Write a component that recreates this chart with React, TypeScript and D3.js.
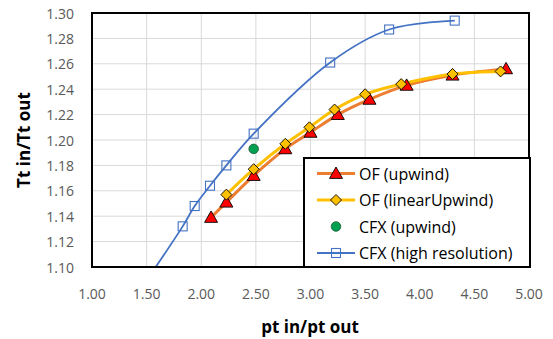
import React from "react";
import * as d3 from "d3";

const ofUpwindX = [2.09, 2.23, 2.48, 2.77, 3.0, 3.25, 3.54, 3.88, 4.3, 4.79];
const ofUpwindY = [1.139, 1.151, 1.172, 1.193, 1.206, 1.22, 1.232, 1.243, 1.251, 1.256];

const ofLinearX = [2.23, 2.48, 2.77, 2.99, 3.22, 3.5, 3.83, 4.3, 4.74];
const ofLinearY = [1.157, 1.177, 1.197, 1.21, 1.224, 1.236, 1.244, 1.252, 1.254];

const cfxUpwindX = [2.48];
const cfxUpwindY = [1.193];

const cfxHighX = [1.52, 1.83, 1.94, 2.08, 2.23, 2.48, 3.18, 3.72, 4.32];
const cfxHighY = [1.092, 1.132, 1.148, 1.164, 1.18, 1.205, 1.261, 1.287, 1.294];

const xTicks = [1.0, 1.5, 2.0, 2.5, 3.0, 3.5, 4.0, 4.5, 5.0];
const yTicks = [1.1, 1.12, 1.14, 1.16, 1.18, 1.2, 1.22, 1.24, 1.26, 1.28, 1.3];

const legendLabels = ["OF (upwind)", "OF (linearUpwind)", "CFX (upwind)", "CFX (high resolution)"];

const W = 553;
const H = 339;
const plot = { left: 92, right: 529, top: 13, bottom: 267 };
const FONT = "'Open Sans', 'Noto Sans', 'DejaVu Sans', sans-serif";

type Pt = [number, number];
const zip = (xs: number[], ys: number[]): Pt[] => xs.map((x, i) => [x, ys[i]]);

function Triangle({ x, y }: { x: number; y: number }) {
  const s = 6.5;
  return (
    <path
      d={`M${x},${y - s}L${x + s},${y + s * 0.75}L${x - s},${y + s * 0.75}Z`}
      fill="#ff0000"
      stroke="#000"
      strokeWidth={0.9}
    />
  );
}

function Diamond({ x, y }: { x: number; y: number }) {
  const s = 5.5;
  return (
    <path
      d={`M${x},${y - s}L${x + s},${y}L${x},${y + s}L${x - s},${y}Z`}
      fill="#ffc000"
      stroke="#000"
      strokeWidth={0.9}
    />
  );
}

function Square({ x, y }: { x: number; y: number }) {
  const s = 4.5;
  return <rect x={x - s} y={y - s} width={2 * s} height={2 * s} fill="none" stroke="#4472c4" strokeWidth={1.1} />;
}

function Dot({ x, y }: { x: number; y: number }) {
  return <circle cx={x} cy={y} r={4.8} fill="#00a050" stroke="#1f5a30" strokeWidth={0.8} />;
}

export default function App() {
  const xs = d3.scaleLinear().domain([1, 5]).range([plot.left, plot.right]);
  const ys = d3.scaleLinear().domain([1.1, 1.3]).range([plot.bottom, plot.top]);

  const line = d3
    .line<Pt>()
    .x((d) => xs(d[0]))
    .y((d) => ys(d[1]))
    .curve(d3.curveCatmullRom.alpha(0.5));

  const ofU = zip(ofUpwindX, ofUpwindY);
  const ofL = zip(ofLinearX, ofLinearY);
  const cfxU = zip(cfxUpwindX, cfxUpwindY);
  const cfxH = zip(cfxHighX, cfxHighY);

  const visible = (p: Pt) => p[1] >= 1.1 && p[1] <= 1.3;

  const lg = { x0: 304, y0: 158, x1: 530, y1: 267 };
  const rowY = [173.5, 200, 226.5, 253];
  const sampleX0 = 317;
  const sampleX1 = 355;
  const sampleC = 336;

  return (
    <svg width={W} height={H} style={{ position: "absolute", left: 0, top: 0, background: "#fff" }}>
      <defs>
        <clipPath id="plotClip">
          <rect x={plot.left} y={plot.top} width={plot.right - plot.left} height={plot.bottom - plot.top} />
        </clipPath>
      </defs>
      <rect width={W} height={H} fill="#fff" />

      {/* gridlines */}
      {xTicks.map((t) => (
        <line key={"gx" + t} x1={xs(t)} x2={xs(t)} y1={plot.top} y2={plot.bottom} stroke="#d9d9d9" strokeWidth={1} />
      ))}
      {yTicks.map((t) => (
        <line key={"gy" + t} x1={plot.left} x2={plot.right} y1={ys(t)} y2={ys(t)} stroke="#d9d9d9" strokeWidth={1} />
      ))}

      {/* series */}
      <g clipPath="url(#plotClip)">
        <path d={line(cfxH) || ""} fill="none" stroke="#4472c4" strokeWidth={1.8} />
        <path d={line(ofU) || ""} fill="none" stroke="#ed7d31" strokeWidth={3} />
        <path d={line(ofL) || ""} fill="none" stroke="#ffc000" strokeWidth={3} />
      </g>
      {cfxH.filter(visible).map((p, i) => (
        <Square key={"s" + i} x={xs(p[0])} y={ys(p[1])} />
      ))}
      {ofU.map((p, i) => (
        <Triangle key={"t" + i} x={xs(p[0])} y={ys(p[1])} />
      ))}
      {ofL.map((p, i) => (
        <Diamond key={"d" + i} x={xs(p[0])} y={ys(p[1])} />
      ))}
      {cfxU.map((p, i) => (
        <Dot key={"c" + i} x={xs(p[0])} y={ys(p[1])} />
      ))}

      {/* plot border */}
      <rect
        x={plot.left}
        y={plot.top}
        width={plot.right - plot.left}
        height={plot.bottom - plot.top}
        fill="none"
        stroke="#000"
        strokeWidth={2}
      />

      {/* tick labels */}
      {yTicks.map((t) => (
        <text
          key={"yl" + t}
          x={74}
          y={ys(t)}
          textAnchor="end"
          dominantBaseline="central"
          fontFamily={FONT}
          fontSize={14}
          fill="#595959"
        >
          {t.toFixed(2)}
        </text>
      ))}
      {xTicks.map((t) => (
        <text
          key={"xl" + t}
          x={xs(t)}
          y={293}
          textAnchor="middle"
          dominantBaseline="central"
          fontFamily={FONT}
          fontSize={14}
          fill="#595959"
        >
          {t.toFixed(2)}
        </text>
      ))}

      {/* axis titles */}
      <text x={310} y={326} textAnchor="middle" dominantBaseline="central" fontFamily={FONT} fontSize={17} fontWeight="bold" fill="#000">
        pt in/pt out
      </text>
      <text
        transform={`translate(23,140) rotate(-90)`}
        textAnchor="middle"
        dominantBaseline="central"
        fontFamily={FONT}
        fontSize={17}
        fontWeight="bold"
        fill="#000"
      >
        Tt in/Tt out
      </text>

      {/* legend */}
      <rect x={lg.x0} y={lg.y0} width={lg.x1 - lg.x0} height={lg.y1 - lg.y0} fill="#fff" stroke="#000" strokeWidth={2} />
      <line x1={sampleX0} x2={sampleX1} y1={rowY[0]} y2={rowY[0]} stroke="#ed7d31" strokeWidth={3} />
      <Triangle x={sampleC} y={rowY[0]} />
      <line x1={sampleX0} x2={sampleX1} y1={rowY[1]} y2={rowY[1]} stroke="#ffc000" strokeWidth={3} />
      <Diamond x={sampleC} y={rowY[1]} />
      <Dot x={sampleC} y={rowY[2]} />
      <line x1={sampleX0} x2={sampleX1} y1={rowY[3]} y2={rowY[3]} stroke="#4472c4" strokeWidth={1.8} />
      <Square x={sampleC} y={rowY[3]} />
      {legendLabels.map((l, i) => (
        <text key={l} x={359} y={rowY[i]} dominantBaseline="central" fontFamily={FONT} fontSize={16} fill="#000">
          {l}
        </text>
      ))}
    </svg>
  );
}
